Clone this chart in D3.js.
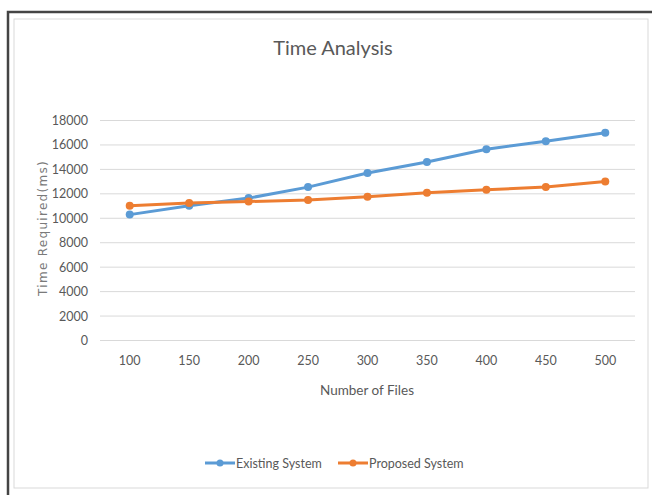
<!DOCTYPE html>
<html><head><meta charset="utf-8">
<script src="https://cdn.jsdelivr.net/npm/d3@7"></script>
<style>body{margin:0;background:#fff;} svg{display:block;}</style>
</head><body>
<svg id="c" width="652" height="495"></svg>
<script>
const categories = ["100","150","200","250","300","350","400","450","500"];
const existing = [10300, 11020, 11650, 12550, 13700, 14600, 15650, 16300, 17000];
const proposed = [11020, 11250, 11370, 11500, 11760, 12080, 12330, 12550, 13000];
const yTicks = [0,2000,4000,6000,8000,10000,12000,14000,16000,18000];
const seriesNames = ["Existing System","Proposed System"];
const colors = ["#5B9BD5","#ED7D31"];

const svg = d3.select("#c");
const font = "Lato,'Liberation Sans Narrow',sans-serif";
// outer dark frame
svg.append("rect").attr("x",8).attr("y",12).attr("width",660).attr("height",500)
  .attr("fill","#fff").attr("stroke","#444").attr("stroke-width",2.5);
// inner chart border
svg.append("rect").attr("x",14).attr("y",19).attr("width",634).attr("height",469)
  .attr("fill","#fff").attr("stroke","#d9d9d9").attr("stroke-width",1);

const x = d3.scaleBand().domain(categories).range([100,635]);
const y = d3.scaleLinear().domain([0,18000]).range([340.5,120.5]);

// gridlines
svg.append("g").selectAll("line").data(yTicks).join("line")
  .attr("x1",100).attr("x2",635).attr("y1",d=>y(d)).attr("y2",d=>y(d))
  .attr("stroke","#d9d9d9").attr("stroke-width",1);

// y axis labels
const yAxis = d3.axisLeft(y).tickValues(yTicks).tickSize(0).tickPadding(12).tickFormat(d3.format("d"));
const gy = svg.append("g").attr("transform","translate(100,0)").call(yAxis);
gy.select(".domain").remove();
gy.selectAll("text").attr("fill","#595959").style("font-family",font).style("font-size","12.5px");

// x axis labels
const xAxis = d3.axisBottom(x).tickSize(0).tickPadding(16);
const gx = svg.append("g").attr("transform","translate(0,340.5)").call(xAxis);
gx.select(".domain").remove();
gx.selectAll("text").attr("fill","#595959").style("font-family",font).style("font-size","12.5px");

// titles
svg.append("text").attr("x",333).attr("y",55).attr("text-anchor","middle")
  .attr("fill","#595959").style("font-family",font).style("font-size","20px").text("Time Analysis");
svg.append("text").attr("x",367).attr("y",395).attr("text-anchor","middle")
  .attr("fill","#595959").style("font-family",font).style("font-size","13.5px").text("Number of Files");
svg.append("text").attr("transform","translate(47,228) rotate(-90)").attr("text-anchor","middle")
  .attr("fill","#7a7a7a").style("font-family","'DejaVu Sans',sans-serif").style("font-size","12px")
  .style("letter-spacing","1.3px").text("Time Required(ms)");

// lines
const cx = d => x(d) + x.bandwidth()/2;
const line = d3.line().x(d=>cx(d.c)).y(d=>y(d.v));
[existing, proposed].forEach((vals,i)=>{
  const data = categories.map((c,j)=>({c, v: vals[j]}));
  svg.append("path").datum(data).attr("d",line).attr("fill","none")
    .attr("stroke",colors[i]).attr("stroke-width",3).attr("stroke-linejoin","round");
  svg.append("g").selectAll("circle").data(data).join("circle")
    .attr("cx",d=>cx(d.c)).attr("cy",d=>y(d.v)).attr("r",4).attr("fill",colors[i]);
});

// legend
const legX = [205, 338];
seriesNames.forEach((n,i)=>{
  const g = svg.append("g").attr("transform",`translate(${legX[i]},463)`);
  g.append("line").attr("x1",0).attr("x2",30).attr("stroke",colors[i]).attr("stroke-width",3);
  g.append("circle").attr("cx",15).attr("r",3.5).attr("fill",colors[i]);
  g.append("text").attr("x",31).attr("y",4.5).attr("fill","#595959")
    .style("font-family",font).style("font-size","12.5px").text(n);
});
</script>
</body></html>
